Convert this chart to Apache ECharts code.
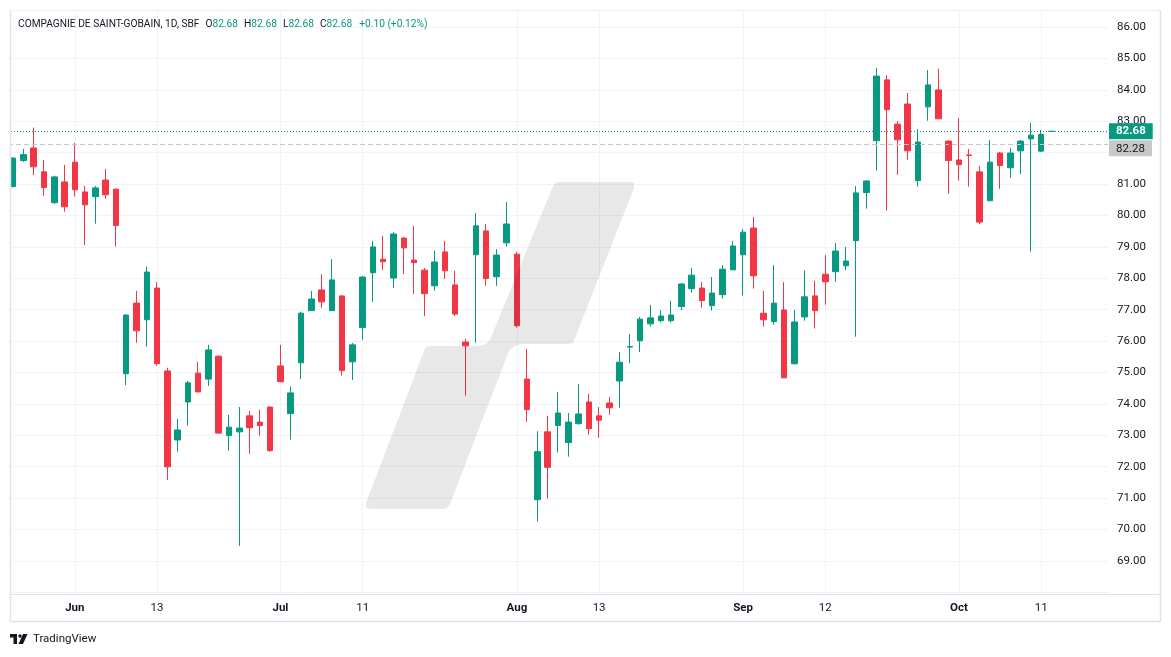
<!DOCTYPE html>
<html>
<head>
<meta charset="utf-8">
<title>Compagnie de Saint-Gobain, 1D</title>
<script src="https://cdn.jsdelivr.net/npm/echarts@6/dist/echarts.min.js"></script>
<style>
  html, body { margin: 0; padding: 0; background: #fff; }
  #chart { width: 1171px; height: 657px; }
</style>
</head>
<body>
<div id="chart"></div>
<script>
// daily candles, SBF
var dates = [
  '2024-05-24', '2024-05-27', '2024-05-28', '2024-05-29', '2024-05-30', '2024-05-31',
  '2024-06-03', '2024-06-04', '2024-06-05', '2024-06-06', '2024-06-07', '2024-06-10', '2024-06-11', '2024-06-12', '2024-06-13', '2024-06-14',
  '2024-06-17', '2024-06-18', '2024-06-19', '2024-06-20', '2024-06-21', '2024-06-24', '2024-06-25', '2024-06-26', '2024-06-27', '2024-06-28',
  '2024-07-01', '2024-07-02', '2024-07-03', '2024-07-04', '2024-07-05', '2024-07-08', '2024-07-09', '2024-07-10', '2024-07-11', '2024-07-12',
  '2024-07-15', '2024-07-16', '2024-07-17', '2024-07-18', '2024-07-19', '2024-07-22', '2024-07-23', '2024-07-24', '2024-07-25', '2024-07-26',
  '2024-07-29', '2024-07-30', '2024-07-31',
  '2024-08-01', '2024-08-02', '2024-08-05', '2024-08-06', '2024-08-07', '2024-08-08', '2024-08-09', '2024-08-12', '2024-08-13', '2024-08-14',
  '2024-08-15', '2024-08-16', '2024-08-19', '2024-08-20', '2024-08-21', '2024-08-22', '2024-08-23', '2024-08-26', '2024-08-27', '2024-08-28',
  '2024-08-29', '2024-08-30',
  '2024-09-02', '2024-09-03', '2024-09-04', '2024-09-05', '2024-09-06', '2024-09-09', '2024-09-10', '2024-09-11', '2024-09-12', '2024-09-13',
  '2024-09-16', '2024-09-17', '2024-09-18', '2024-09-19', '2024-09-20', '2024-09-23', '2024-09-24', '2024-09-25', '2024-09-26', '2024-09-27',
  '2024-09-30',
  '2024-10-01', '2024-10-02', '2024-10-03', '2024-10-04', '2024-10-07', '2024-10-08', '2024-10-09', '2024-10-10', '2024-10-11', '2024-10-14'
]
var opens = [
  80.92, 81.75, 82.15, 81.39, 80.41, 81.07,
  81.70, 80.75, 80.60, 81.13, 80.84, 74.96, 77.21, 76.68, 77.69, 75.05,
  72.85, 74.06, 74.98, 74.79, 75.52, 72.99, 73.11, 73.62, 73.42, 73.90,
  75.21, 73.69, 75.31, 76.97, 77.63, 76.97, 77.44, 75.34, 76.43, 78.18,
  78.61, 78.01, 79.28, 78.58, 78.26, 77.76, 78.84, 77.79, 75.97, 78.75,
  79.51, 78.05, 79.13,
  78.77, 74.79, 70.95, 73.11, 73.31, 72.77, 73.37, 74.06, 73.62, 74.03,
  74.73, 75.81, 76.01, 76.55, 76.65, 76.65, 77.10, 77.67, 77.69, 77.13,
  77.48, 78.27,
  78.75, 79.60, 76.89, 76.62, 76.99, 75.28, 76.77, 77.44, 78.13, 78.21,
  78.40, 79.20, 80.73, 82.38, 84.32, 82.91, 83.55, 81.11, 83.46, 84.00,
  82.37,
  81.77, 81.93, 81.39, 80.47, 81.99, 81.52, 82.06, 82.44, 82.05, 82.68
]
var closes = [
  81.83, 81.94, 81.55, 80.89, 81.23, 80.28,
  80.82, 80.34, 80.88, 80.66, 79.68, 76.83, 76.33, 78.20, 75.28, 72.00,
  73.17, 74.67, 74.38, 75.72, 73.07, 73.26, 73.23, 73.24, 73.31, 72.51,
  74.71, 74.35, 76.89, 77.34, 77.25, 77.95, 75.06, 75.88, 78.04, 79.00,
  78.53, 79.41, 78.97, 78.50, 77.51, 78.52, 78.24, 76.86, 75.85, 79.67,
  77.99, 78.74, 79.73,
  76.49, 73.82, 72.48, 71.98, 73.71, 73.42, 73.68, 73.21, 73.48, 73.88,
  75.33, 75.83, 76.70, 76.74, 76.80, 76.83, 77.82, 78.10, 77.29, 77.53,
  78.29, 79.03,
  79.47, 78.08, 76.68, 77.21, 74.83, 76.61, 77.41, 76.97, 77.89, 78.87,
  78.55, 80.72, 81.10, 84.44, 83.37, 82.41, 82.06, 82.34, 84.16, 83.08,
  81.75,
  81.62, 81.91, 79.79, 81.70, 81.59, 81.99, 82.37, 82.56, 82.58, 82.68
]
var lows = [
  80.90, 81.71, 81.29, 80.62, 80.37, 80.12,
  80.60, 79.06, 79.74, 80.53, 79.01, 74.60, 75.95, 75.82, 75.22, 71.58,
  72.48, 73.31, 74.38, 74.57, 73.05, 72.51, 69.48, 72.41, 72.99, 72.48,
  74.68, 72.86, 74.79, 76.97, 77.06, 76.97, 74.90, 74.76, 76.04, 77.25,
  78.26, 77.69, 78.13, 77.50, 76.80, 77.60, 77.98, 76.80, 74.26, 75.95,
  77.76, 77.76, 79.01,
  76.43, 73.43, 70.25, 70.98, 72.45, 72.32, 73.34, 73.02, 72.92, 73.65,
  73.88, 75.30, 75.65, 76.46, 76.59, 76.59, 76.99, 77.54, 77.06, 76.97,
  77.35, 78.27,
  77.45, 77.67, 76.46, 76.52, 74.83, 75.25, 76.65, 76.40, 77.16, 77.89,
  78.26, 76.14, 80.22, 81.43, 80.15, 81.30, 81.78, 80.92, 83.02, 83.08,
  80.69,
  81.11, 80.92, 79.73, 80.47, 80.85, 81.20, 81.32, 78.85, 82.02, 82.68
]
var highs = [
  81.85, 82.12, 82.80, 81.77, 81.27, 81.61,
  82.31, 80.94, 80.94, 81.48, 80.86, 76.86, 77.60, 78.37, 77.88, 75.15,
  73.52, 74.73, 75.34, 75.88, 75.55, 73.65, 73.90, 73.78, 73.81, 73.92,
  75.88, 74.55, 76.94, 77.60, 78.13, 78.61, 77.46, 75.94, 78.07, 79.19,
  79.35, 79.47, 79.32, 79.67, 78.33, 78.87, 79.19, 78.24, 76.07, 80.08,
  79.73, 78.93, 80.43,
  78.84, 75.75, 73.13, 73.62, 74.38, 73.71, 74.63, 74.32, 73.90, 74.22,
  75.65, 76.23, 76.77, 77.15, 76.99, 77.28, 77.85, 78.33, 77.88, 78.04,
  78.42, 79.19,
  79.57, 79.95, 77.60, 78.42, 77.88, 76.99, 78.26, 77.92, 78.74, 79.12,
  79.00, 80.94, 81.12, 84.70, 84.47, 83.01, 83.90, 82.75, 84.63, 84.67,
  82.39,
  83.10, 82.12, 81.58, 82.40, 82.02, 82.15, 82.40, 82.95, 82.72, 82.68
]
// empty slots to the right of the last bar
var rightSlots = ['s1', 's2', 's3', 's4', 's5']

var tickDates = ['2024-06-03', '2024-06-13', '2024-07-01', '2024-07-11', '2024-08-01', '2024-08-13', '2024-09-02', '2024-09-12', '2024-10-01', '2024-10-11']
var tickLabels = ['Jun', '13', 'Jul', '11', 'Aug', '13', 'Sep', '12', 'Oct', '11']
var monthLabels = ['Jun', 'Jul', 'Aug', 'Sep', 'Oct']

var refPrice = 82.28

var UP = '#089981'
var DOWN = '#F23645'
var TEXT = '#131722'
var GRID = '#f0f3fa'
var BORDER = '#e0e3eb'

var candles = dates.map(function(d, i) {
  return [opens[i], closes[i], lows[i], highs[i]]
})
var last = dates.length - 1
var lastClose = closes[last]
var change = closes[last] - closes[last - 1]
var changePct = change / closes[last - 1] * 100

function isTick(index, value) {
  return tickDates.indexOf(value) >= 0
}

var chart = echarts.init(document.getElementById('chart'))

var legendFont = { fontFamily: 'Roboto', fontSize: 10.2, fontWeight: 'normal' }

var option = {
  animation: false,
  backgroundColor: '#fff',
  textStyle: { fontFamily: 'Roboto' },
  title: {
    left: 18,
    top: 19,
    padding: 0,
    text: '{n|COMPAGNIE DE SAINT-GOBAIN, 1D, SBF}{k|O}{v|' + opens[last].toFixed(2) + '}{k|H}{v|' + highs[last].toFixed(2) +
      '}{k|L}{v|' + lows[last].toFixed(2) + '}{k|C}{v|' + closes[last].toFixed(2) + '}{c|' +
      (change >= 0 ? '+' : '') + change.toFixed(2) + ' (' + (changePct >= 0 ? '+' : '') + changePct.toFixed(2) + '%)}',
    textStyle: {
      fontWeight: 'normal',
      rich: {
        n: echarts.util.extend({ color: TEXT }, legendFont),
        k: echarts.util.extend({ color: TEXT, padding: [0, 0, 0, 6] }, legendFont),
        v: echarts.util.extend({ color: UP }, legendFont),
        c: echarts.util.extend({ color: UP, padding: [0, 0, 0, 7] }, legendFont)
      }
    }
  },
  grid: { left: 8, right: 63, top: 10, bottom: 64.7 },
  xAxis: {
    type: 'category',
    data: dates.concat(rightSlots),
    boundaryGap: true,
    axisLine: { show: false },
    axisTick: {
      show: true,
      inside: true,
      length: 582,
      alignWithLabel: true,
      interval: isTick,
      lineStyle: { color: GRID }
    },
    axisLabel: {
      interval: isTick,
      margin: 10,
      fontSize: 11.5,
      color: TEXT,
      formatter: function(value) {
        var lbl = tickLabels[tickDates.indexOf(value)]
        if (monthLabels.indexOf(lbl) >= 0) {
          return '{m|' + lbl + '}'
        }
        return lbl
      },
      rich: {
        m: { fontFamily: 'Roboto', fontSize: 11.5, fontWeight: 'bold', color: TEXT }
      }
    },
    splitLine: { show: false }
  },
  yAxis: {
    type: 'value',
    position: 'right',
    min: 68,
    max: 86.545,
    interval: 1,
    axisLine: { show: false },
    axisTick: { show: false },
    axisLabel: {
      margin: 9,
      fontSize: 11.5,
      color: TEXT,
      showMinLabel: false,
      showMaxLabel: false,
      formatter: function(v) {
        // label hidden under the grey price tag
        if (Math.abs(v - refPrice) < 0.5) return ''
        return v.toFixed(2)
      }
    },
    splitLine: { lineStyle: { color: GRID } }
  },
  series: [{
    type: 'candlestick',
    data: candles,
    barWidth: 6,
    itemStyle: {
      color: UP,
      color0: DOWN,
      borderColor: UP,
      borderColor0: DOWN,
      borderColorDoji: UP,
      borderWidth: 1
    },
    markLine: {
      silent: true,
      animation: false,
      symbol: ['none', 'none'],
      label: {
        position: 'end',
        distance: 1,
        fontFamily: 'Roboto',
        fontSize: 11.5,
        lineHeight: 12,
        padding: [2, 7, 2, 7]
      },
      data: [
        {
          yAxis: lastClose,
          lineStyle: { color: UP, type: [1, 2], width: 1 },
          label: { show: true, formatter: lastClose.toFixed(2), color: '#fff', fontWeight: 'bold', backgroundColor: UP }
        },
        {
          yAxis: refPrice,
          lineStyle: { color: '#c3c6ce', type: [5, 3], width: 1 },
          label: { show: false }
        }
      ]
    }
  }],
  graphic: [
    // watermark
    {
      type: 'polygon',
      z: 100,
      silent: true,
      shape: {
        points: [
          [553, 186], [555, 183], [559, 182], [630, 182], [634, 183], [634, 188],
          [575, 338], [573, 343], [568, 344], [522, 344], [514, 346], [509, 351], [507, 356],
          [450, 504], [447, 508], [443, 509], [370, 509], [366, 508], [366, 503],
          [424, 351], [426, 347], [431, 346], [474, 346], [484, 345], [490, 340], [492, 335]
        ]
      },
      style: { fill: 'rgba(0,0,0,0.09)' }
    },
    { type: 'rect', z: 50, silent: true, shape: { x: 0, y: 0, width: 10, height: 657 }, style: { fill: '#fff' } },
    // panel borders
    { type: 'line', z: 51, silent: true, shape: { x1: 10.5, y1: 10, x2: 10.5, y2: 622 }, style: { stroke: BORDER, lineWidth: 1.5 } },
    { type: 'line', z: 51, silent: true, shape: { x1: 1160.5, y1: 10, x2: 1160.5, y2: 622 }, style: { stroke: BORDER, lineWidth: 1.5 } },
    { type: 'line', z: 51, silent: true, shape: { x1: 10, y1: 10.5, x2: 1161, y2: 10.5 }, style: { stroke: '#eef0f3', lineWidth: 1 } },
    { type: 'line', z: 51, silent: true, shape: { x1: 10, y1: 594.5, x2: 1161, y2: 594.5 }, style: { stroke: BORDER, lineWidth: 1 } },
    { type: 'line', z: 51, silent: true, shape: { x1: 10, y1: 621.5, x2: 1161, y2: 621.5 }, style: { stroke: BORDER, lineWidth: 1.5 } },
    // grey price tag, moved into place once the axis exists
    {
      type: 'group',
      id: 'refTag',
      x: 1109,
      y: 0,
      z: 60,
      silent: true,
      children: [
        { type: 'rect', shape: { x: 0, y: 0, width: 43, height: 16 }, style: { fill: '#c8c8c8' } },
        { type: 'text', x: 21.5, y: 8.5, style: { text: refPrice.toFixed(2), fill: TEXT, font: '11.5px Roboto', align: 'center', verticalAlign: 'middle' } }
      ]
    },
    // TradingView logo
    { type: 'polygon', silent: true, shape: { points: [[9, 634], [17, 634], [17, 644], [13.5, 644], [13.5, 637.5], [9, 637.5]] }, style: { fill: TEXT } },
    { type: 'circle', silent: true, shape: { cx: 20, cy: 636, r: 1.7 }, style: { fill: TEXT } },
    { type: 'polygon', silent: true, shape: { points: [[23, 634], [27.5, 634], [23, 644], [18.5, 644]] }, style: { fill: TEXT } },
    {
      type: 'text',
      silent: true,
      x: 33,
      y: 639,
      style: { text: 'TradingView', fill: TEXT, font: '11.5px Roboto', verticalAlign: 'middle' }
    }
  ]
}

chart.setOption(option)

// the grey tag sits just under the green one, as the two would overlap
var yRef = chart.convertToPixel({ yAxisIndex: 0 }, refPrice)
var yLast = chart.convertToPixel({ yAxisIndex: 0 }, lastClose)
var tagTop = Math.max(yRef - 8, yLast + 9)
chart.setOption({ graphic: { elements: [{ id: 'refTag', y: tagTop }] } })
</script>
</body>
</html>
